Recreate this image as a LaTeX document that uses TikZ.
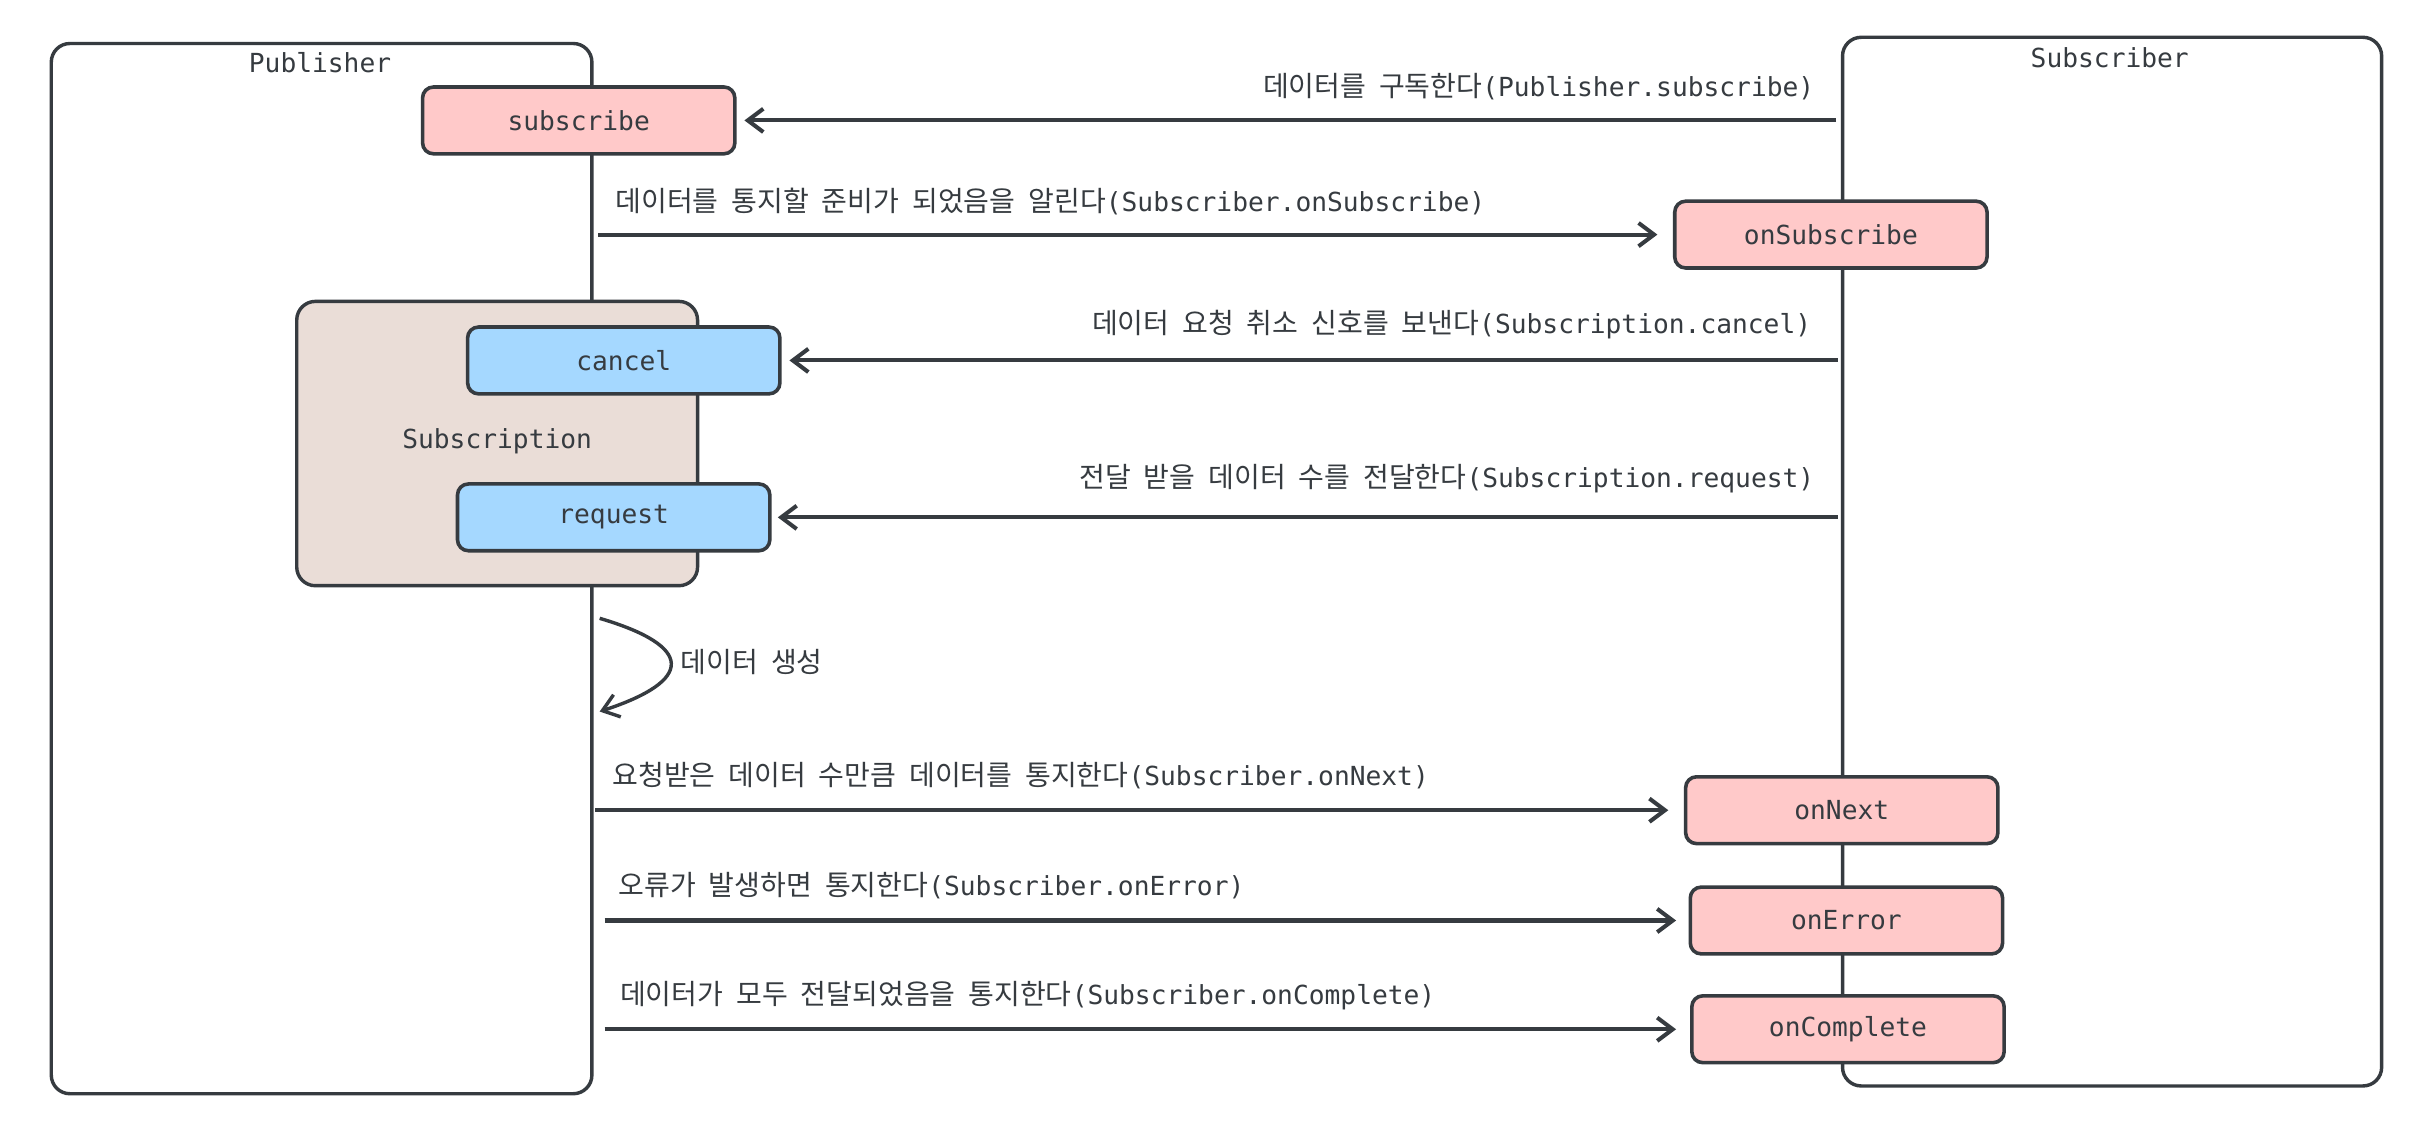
\documentclass[tikz,border=0pt]{standalone}
\usepackage{fontspec}
\setmainfont{DejaVu Sans Mono}
\newfontfamily\kr{Noto Sans CJK KR}[Scale=1.068, WordSpace=2.06]
\usetikzlibrary{arrows.meta}
\definecolor{ink}{HTML}{363B40}
\definecolor{pinkfill}{HTML}{FFC9C9}
\definecolor{bluefill}{HTML}{A5D8FF}
\definecolor{tanfill}{HTML}{EADDD7}
\begin{document}
\begin{tikzpicture}[x=1pt,y=-1pt,
  font=\fontsize{16.9}{20}\selectfont, text=ink,
  container/.style={draw=ink, line width=2.2pt, rounded corners=12pt, inner sep=0pt},
  method/.style={draw=ink, line width=2.3pt, rounded corners=7pt, minimum width=201pt, minimum height=43pt, inner sep=0pt},
  pinkbox/.style={method, fill=pinkfill},
  bluebox/.style={method, fill=bluefill},
  msg/.style={draw=ink, line width=2.6pt, -{Straight Barb[length=10pt,width=15pt]}},
  lbl/.style={inner sep=0pt}
]
\useasboundingbox[fill=white] (0,0) rectangle (1568,726);

% containers
\node[container, minimum width=348pt, minimum height=676pt] (pub) at (207,366) {};
\node[lbl] (pubtitle) at (206,40) {Publisher};
\node[container, minimum width=347pt, minimum height=675pt] (sub) at (1359.5,361.5) {};
\node[lbl] (subtitle) at (1358,37) {Subscriber};
\node[container, fill=tanfill, minimum width=258pt, minimum height=183pt] (subn) at (320,285.5) {};
\node[lbl] (subntitle) at (320,284) {Subscription};

% method boxes
\node[pinkbox] (subscribe) at (372.5,77.5) {subscribe};
\node[pinkbox] (onsubscribe) at (1178.5,151) {onSubscribe};
\node[bluebox] (cancel) at (401.5,232) {cancel};
\node[bluebox] (request) at (395,333) {request};
\node[pinkbox] (onnext) at (1185.5,521.5) {onNext};
\node[pinkbox] (onerror) at (1188.5,592.5) {onError};
\node[pinkbox] (oncomplete) at (1189.5,662.5) {onComplete};

% messages
\draw[msg, shorten <=3pt, shorten >=5pt] (sub.west |- subscribe.east) -- (subscribe.east);
\node[lbl, anchor=east] (l1) at (1168,56) {{\kr 데이터를 구독한다}(Publisher.subscribe)};

\draw[msg, shorten <=3pt, shorten >=10pt] (pub.east |- onsubscribe.west) -- (onsubscribe.west);
\node[lbl, anchor=west] (l2) at (396,130) {{\kr 데이터를 통지할 준비가 되었음을 알린다}(Subscriber.onSubscribe)};

\draw[msg, shorten <=2pt, shorten >=5pt] (sub.west |- cancel.east) -- (cancel.east);
\node[lbl, anchor=east] (l3) at (1166,209) {{\kr 데이터 요청 취소 신호를 보낸다}(Subscription.cancel)};

\draw[msg, shorten <=2pt, shorten >=4pt] (sub.west |- request.east) -- (request.east);
\node[lbl, anchor=east] (l4) at (1168,308) {{\kr 전달 받을 데이터 수를 전달한다}(Subscription.request)};

\coordinate (genstart) at (386,398);
\coordinate (genend) at (386,458);
\draw[draw=ink, line width=2.2pt, -{Straight Barb[length=10pt,width=15pt]}] (genstart) .. controls (447,416) and (447,438) .. (genend);
\node[lbl, anchor=west] (l5) at (438,426) {\kr 데이터 생성};

\draw[msg, shorten <=1pt, shorten >=10pt] (pub.east |- onnext.west) -- (onnext.west);
\node[lbl, anchor=west] (l6) at (394,499) {{\kr 요청받은 데이터 수만큼 데이터를 통지한다}(Subscriber.onNext)};

\draw[msg, shorten <=7pt, shorten >=8pt] (pub.east |- onerror.west) -- (onerror.west);
\node[lbl, anchor=west] (l7) at (398,570) {{\kr 오류가 발생하면 통지한다}(Subscriber.onError)};

\draw[msg, shorten <=7pt, shorten >=9pt] (pub.east |- oncomplete.west) -- (oncomplete.west);
\node[lbl, anchor=west] (l8) at (399,641) {{\kr 데이터가 모두 전달되었음을 통지한다}(Subscriber.onComplete)};
\end{tikzpicture}
\end{document}
